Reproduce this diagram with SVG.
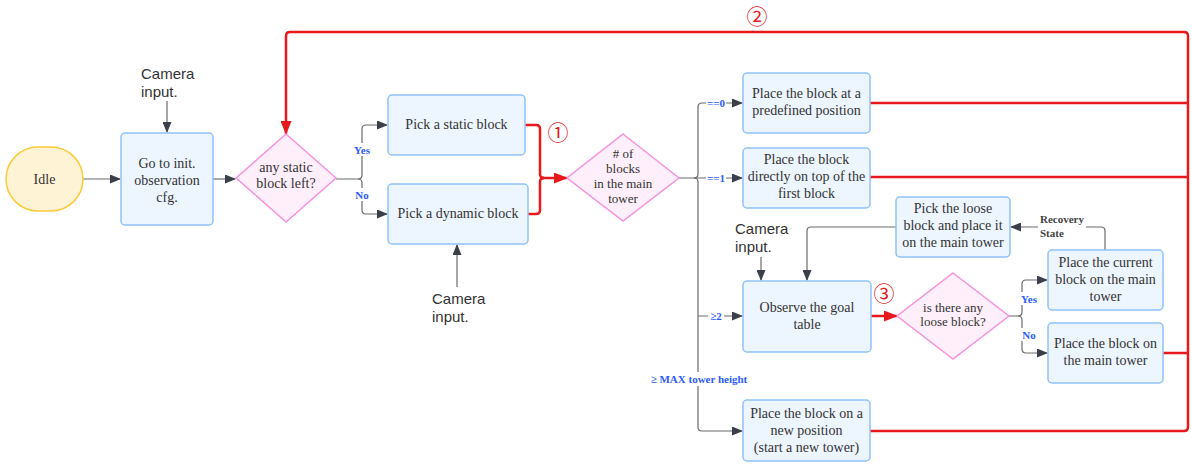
<svg xmlns="http://www.w3.org/2000/svg" width="1192" height="465" viewBox="0 0 1192 465">
<style>
.box{fill:#edf5ff;stroke:#90c2f9;stroke-width:1.5}
.dia{fill:#ffeffa;stroke:#f792dd;stroke-width:1.5}
.idle{fill:#fff3d6;stroke:#fccb3a;stroke-width:1.5}
.t{font-family:"Liberation Serif",serif;font-size:14px;fill:#333;text-anchor:middle}
.td{font-family:"Liberation Serif",serif;font-size:13px;fill:#333;text-anchor:middle}
.cam{font-family:"Liberation Sans",sans-serif;font-size:15px;fill:#333}
.lbl{font-family:"Liberation Serif",serif;font-size:11px;font-weight:bold;fill:#2c5cff;text-anchor:middle}
.rec{font-family:"Liberation Serif",serif;font-size:11px;font-weight:bold;fill:#444}
.g{fill:none;stroke:#6b6b6b;stroke-width:1.2}
.r{fill:none;stroke:#e8191c;stroke-width:2.5}
.num{font-family:"Noto Sans CJK JP","DejaVu Sans",sans-serif;font-size:21px;fill:#e8191c;text-anchor:middle}
</style>
<defs>
<marker id="ag" markerUnits="userSpaceOnUse" markerWidth="11" markerHeight="9" refX="10" refY="4.5" orient="auto"><path d="M0,0 L11,4.5 L0,9 z" fill="#3a3f4a"/></marker>
<marker id="ar" markerUnits="userSpaceOnUse" markerWidth="14" markerHeight="11" refX="13" refY="5.5" orient="auto"><path d="M0,0 L14,5.5 L0,11 z" fill="#e8191c"/></marker>
</defs>
<g id="connectors">
<path class="g" d="M83,179 H120" marker-end="url(#ag)"/>
<path class="g" d="M167,101 V132" marker-end="url(#ag)"/>
<path class="g" d="M213,179 H235" marker-end="url(#ag)"/>
<path class="g" d="M336,179 H358 Q362,179 362,175 V129 Q362,125 366,125 H387" marker-end="url(#ag)"/>
<path class="g" d="M358,179 Q362,179 362,183 V210 Q362,214 366,214 H387" marker-end="url(#ag)"/>
<path class="g" d="M457,287 V245" marker-end="url(#ag)"/>
<path class="g" d="M679,178 H694 Q698,178 698,174 V107 Q698,103 702,103 H742" marker-end="url(#ag)"/>
<path class="g" d="M694,178 H742" marker-end="url(#ag)"/>
<path class="g" d="M694,178 Q698,178 698,182 V427 Q698,431 702,431 H742" marker-end="url(#ag)"/>
<path class="g" d="M698,316 H742" marker-end="url(#ag)"/>
<path class="g" d="M761,257 V280" marker-end="url(#ag)"/>
<path class="g" d="M896,227 H811 Q807,227 807,231 V280" marker-end="url(#ag)"/>
<path class="g" d="M1105,250 V231 Q1105,227 1101,227 H1011" marker-end="url(#ag)"/>
<path class="g" d="M1009,316 H1018 Q1022,316 1022,312 V284 Q1022,280 1026,280 H1047" marker-end="url(#ag)"/>
<path class="g" d="M1018,316 Q1022,316 1022,320 V349 Q1022,353 1026,353 H1047" marker-end="url(#ag)"/>
<path class="r" d="M525,125 H536 Q540,125 540,129 V174 Q540,178 544,178"/>
<path class="r" d="M528,214 H536 Q540,214 540,210 V182 Q540,178 544,178"/>
<path class="r" d="M540,178 H567" marker-end="url(#ar)"/>
<path class="r" d="M1163,353 H1188 M870,103 H1188 M870,177 H1188"/>
<path class="r" d="M870,431 H1184 Q1188,431 1188,427 V36 Q1188,32 1184,32 H290 Q286,32 286,36 V134" marker-end="url(#ar)"/>
<path class="r" d="M871,316 H897" marker-end="url(#ar)"/>
<rect x="648" y="372" width="102" height="14" fill="#fff"/>
<text class="lbl" x="699" y="383">≥ MAX tower height</text>
<rect x="706" y="96" width="20" height="13" fill="#fff"/>
<text class="lbl" x="716" y="107">==0</text>
<rect x="706" y="171" width="20" height="13" fill="#fff"/>
<text class="lbl" x="716" y="182">==1</text>
<rect x="708" y="309" width="16" height="13" fill="#fff"/>
<text class="lbl" x="716" y="320">≥2</text>
<rect x="353" y="143" width="18" height="13" fill="#fff"/>
<text class="lbl" x="362" y="154">Yes</text>
<rect x="354" y="188" width="16" height="13" fill="#fff"/>
<text class="lbl" x="362" y="199">No</text>
<rect x="1020" y="292" width="18" height="13" fill="#fff"/>
<text class="lbl" x="1029" y="303">Yes</text>
<rect x="1021" y="328" width="16" height="13" fill="#fff"/>
<text class="lbl" x="1029" y="339">No</text>
<rect x="1038" y="212" width="48" height="26" fill="#fff"/>
<text class="rec" x="1040" y="223">Recovery</text>
<text class="rec" x="1040" y="237">State</text>
</g>
<g id="idle"><rect class="idle" x="6" y="147" width="77" height="64" rx="32"/><text class="t" x="44.5" y="184">Idle</text></g>
<g id="cam1"><text class="cam" x="141" y="79">Camera</text><text class="cam" x="141" y="97">input.</text></g>
<g id="goto"><rect class="box" x="121" y="133" width="92" height="92" rx="4"/><text class="t" x="167" y="168">Go to init.</text><text class="t" x="167" y="185">observation</text><text class="t" x="167" y="202">cfg.</text></g>
<g id="d1"><polygon class="dia" points="286,134 336,178 286,222 236,178"/><text class="t" x="286" y="172">any static</text><text class="t" x="286" y="188">block left?</text></g>
<g id="static"><rect class="box" x="388" y="95" width="137" height="60" rx="4"/><text class="t" x="456.5" y="129">Pick a static block</text></g>
<g id="dynamic"><rect class="box" x="388" y="184" width="140" height="60" rx="4"/><text class="t" x="458" y="218">Pick a dynamic block</text></g>
<g id="cam2"><text class="cam" x="432" y="304">Camera</text><text class="cam" x="432" y="322">input.</text></g>
<g id="d2"><polygon class="dia" points="623,134 679,178 623,221 567,178"/><text class="td" x="623" y="158"># of</text><text class="td" x="623" y="173">blocks</text><text class="td" x="623" y="188">in the main</text><text class="td" x="623" y="203">tower</text></g>
<g id="p0"><rect class="box" x="743" y="73" width="127" height="60" rx="4"/><text class="t" x="806.5" y="98">Place the block at a</text><text class="t" x="806.5" y="115">predefined position</text></g>
<g id="p1"><rect class="box" x="743" y="148" width="127" height="60" rx="4"/><text class="t" x="806.5" y="164">Place the block</text><text class="t" x="806.5" y="181">directly on top of the</text><text class="t" x="806.5" y="198">first block</text></g>
<g id="cam3"><text class="cam" x="735" y="234">Camera</text><text class="cam" x="735" y="252">input.</text></g>
<g id="loose"><rect class="box" x="896" y="197" width="114" height="60" rx="4"/><text class="t" x="953" y="213">Pick the loose</text><text class="t" x="953" y="230">block and place it</text><text class="t" x="953" y="247">on the main tower</text></g>
<g id="observe"><rect class="box" x="743" y="281" width="128" height="71" rx="4"/><text class="t" x="807" y="312">Observe the goal</text><text class="t" x="807" y="329">table</text></g>
<g id="d3"><polygon class="dia" points="953,273 1009,316 953,359 897,316"/><text class="td" x="953" y="312">is there any</text><text class="td" x="953" y="326">loose block?</text></g>
<g id="current"><rect class="box" x="1048" y="250" width="115" height="60" rx="4"/><text class="t" x="1105.5" y="267">Place the current</text><text class="t" x="1105.5" y="284">block on the main</text><text class="t" x="1105.5" y="301">tower</text></g>
<g id="onmain"><rect class="box" x="1048" y="323" width="115" height="60" rx="4"/><text class="t" x="1105.5" y="348">Place the block on</text><text class="t" x="1105.5" y="365">the main tower</text></g>
<g id="newtower"><rect class="box" x="743" y="400" width="127" height="61" rx="4"/><text class="t" x="806.5" y="418">Place the block on a</text><text class="t" x="806.5" y="435">new position</text><text class="t" x="806.5" y="452">(start a new tower)</text></g>
<g id="markers-num"><text class="num" x="558" y="140">①</text><text class="num" x="757" y="24" font-size="19">②</text><text class="num" x="884" y="301">③</text></g>
</svg>
